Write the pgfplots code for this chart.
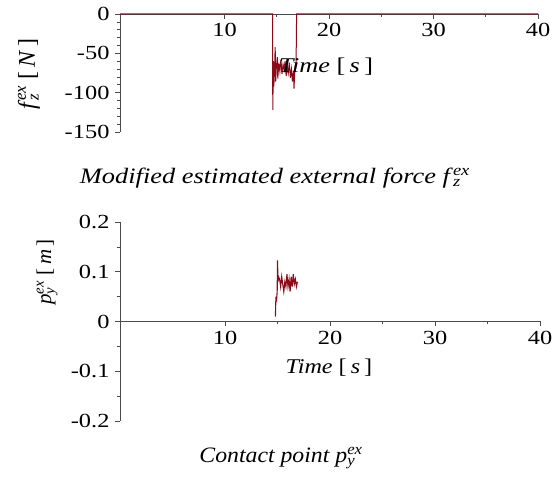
\documentclass[border=0pt]{standalone}
\usepackage{fontspec}
\setmainfont{Liberation Serif}
\usepackage{pgfplots}
\pgfplotsset{compat=1.18}
\definecolor{datared}{HTML}{8B0A1A}
\definecolor{axgray}{HTML}{4A4A4A}
\newcommand{\supsub}[2]{\rlap{\textsubscript{\textit{#2}}}\textsuperscript{\textit{#1}}}

\pgfplotsset{maplestyle/.style={
    scale only axis,
    axis lines=middle,
    axis line style={axgray, line width=0.8pt, -},
    every tick/.style={axgray, line width=0.6pt},
    tick align=outside,
    major tick length=5pt,
    minor tick length=3pt,
    hide obscured x ticks=false,
    hide obscured y ticks=false,
    xmin=0, xmax=40,
    xtick={10,20,30,40},
    minor x tick num=1,
    tick label style={font=\fontsize{20}{22}\selectfont, text=black, xscale=1.22},
    /pgf/number format/assume math mode=true,
    clip=false,
}}

\begin{document}
\begin{tikzpicture}[x=1pt,y=1pt]
\useasboundingbox (0,0) rectangle (559,481);

% top panel
\begin{axis}[maplestyle,
    at={(120pt,349pt)}, anchor=south west,
    width=418pt, height=118pt,
    ymin=-150, ymax=0,
    ytick={-150,-100,-50,0},
    minor y tick num=4,
    yticklabel style={xshift=-1pt},
    xticklabel style={yshift=-1pt},
]
\addplot[datared, line width=1pt] coordinates {
(0,0)(14.6,0)(14.62,-122)(14.68,-60)(14.72,-92)(14.78,-74)(14.85,-42)(14.9,-86)
(14.95,-70)(15.05,-55)(15.1,-82)(15.2,-62)(15.3,-73)(15.4,-58)(15.5,-76)(15.6,-64)
(15.7,-71)(15.8,-60)(15.9,-79)(16.0,-66)(16.1,-75)(16.2,-62)(16.3,-81)(16.4,-70)
(16.5,-86)(16.6,-72)(16.65,-95)(16.75,-66)(16.85,-62)(16.9,0)(40,0)
};
\end{axis}

% bottom panel
\begin{axis}[maplestyle,
    at={(120pt,60pt)}, anchor=south west,
    width=420pt, height=199pt,
    ymin=-0.2, ymax=0.2,
    ytick={-0.2,-0.1,0,0.1,0.2},
    minor y tick num=1,
    yticklabel style={/pgf/number format/fixed, /pgf/number format/precision=1, xshift=-1pt},
    xticklabel style={yshift=-1pt},
]
\addplot[datared, line width=1.1pt] coordinates {
(14.8,0.01)(14.85,0.05)(14.9,0.04)(14.97,0.06)(15.0,0.123)(15.05,0.08)(15.1,0.09)
(15.2,0.085)(15.3,0.07)(15.4,0.09)(15.5,0.075)(15.6,0.06)(15.7,0.08)(15.8,0.07)
(15.9,0.095)(16.0,0.07)(16.1,0.085)(16.2,0.06)(16.3,0.09)(16.4,0.07)(16.5,0.095)
(16.6,0.075)(16.7,0.085)(16.8,0.07)(16.9,0.08)
};
\end{axis}

% labels
\node[rotate=90, font=\fontsize{24}{26}\selectfont] at (29,407) {\textit{f}\supsub{ex}{z} [\,\textit{N}\,]};
\node[font=\fontsize{21}{23}\selectfont, xscale=1.25] at (326,414) {\textit{Time} [\,\textit{s}\,]};
\node[font=\fontsize{22}{24}\selectfont, xscale=1.2] at (275,303) {\textit{Modified estimated external force f}\supsub{ex}{z}};

\node[rotate=90, font=\fontsize{21}{23}\selectfont] at (47,209) {\textit{p}\supsub{ex}{y} [\,\textit{m}\,]};
\node[font=\fontsize{21}{23}\selectfont, xscale=1.15] at (329,113) {\textit{Time} [\,\textit{s}\,]};
\node[font=\fontsize{22}{24}\selectfont, xscale=1.08] at (281,23) {\textit{Contact point p}\supsub{ex}{y}};
\end{tikzpicture}
\end{document}
